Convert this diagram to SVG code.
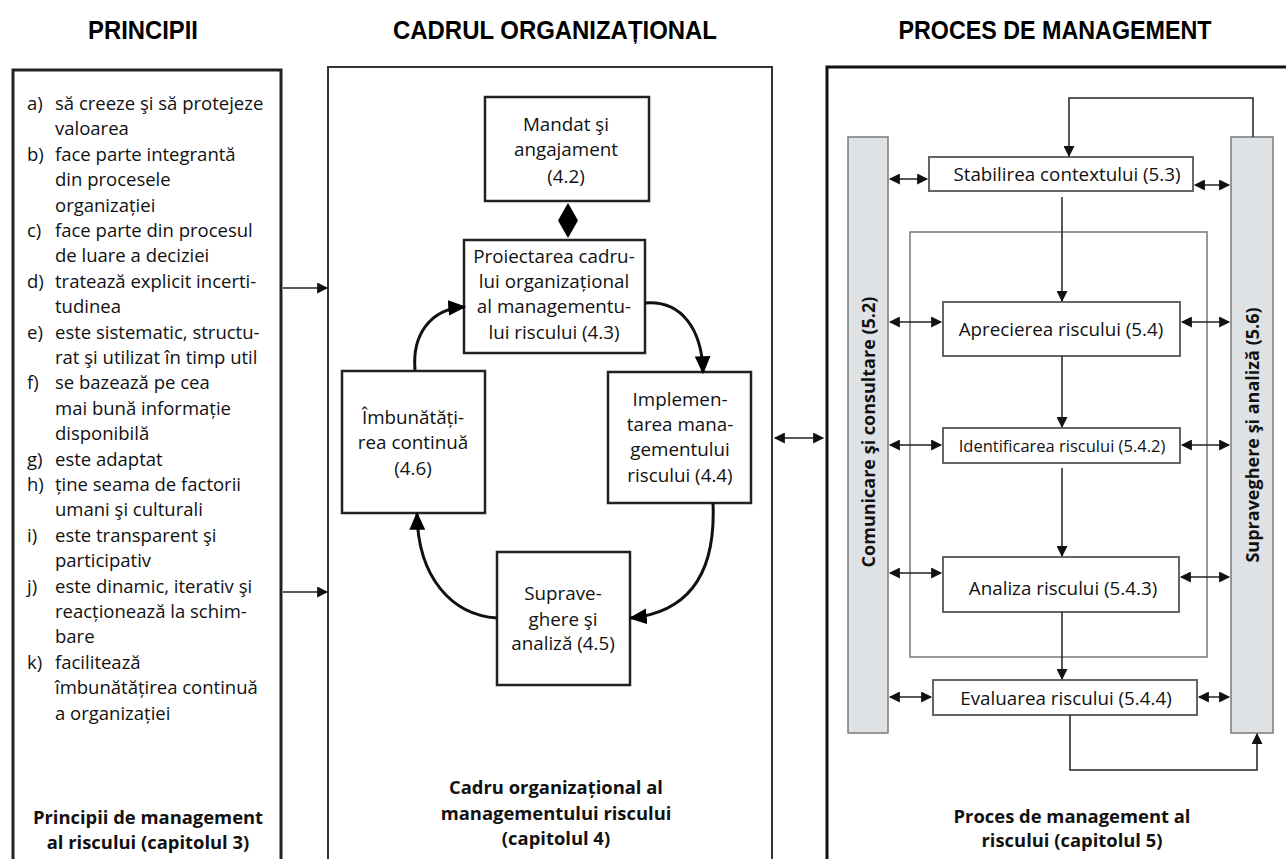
<svg xmlns="http://www.w3.org/2000/svg" width="1286" height="859" viewBox="0 0 1286 859">
  <defs>
    <style>
      .hdr { font-family: "Liberation Sans", Arial, sans-serif; font-weight: bold; font-size: 26px; fill: #000; text-anchor: middle; }
      .txt { font-family: "Open Sans", "Noto Sans", sans-serif; font-size: 18.5px; fill: #111; }
      .mid { font-family: "Open Sans", "Noto Sans", sans-serif; font-size: 18.8px; fill: #111; text-anchor: middle; }
      .rt { font-family: "Open Sans", "Noto Sans", sans-serif; font-size: 18.8px; fill: #111; text-anchor: middle; }
      .cap { font-family: "Open Sans", "Noto Sans", sans-serif; font-weight: bold; font-size: 18.4px; fill: #111; text-anchor: middle; }
      .bar-t { font-family: "Open Sans", "Noto Sans", sans-serif; font-weight: bold; font-size: 18px; fill: #111; text-anchor: middle; }
      .panel { fill: none; }
      .node { fill: #fff; stroke: #222; stroke-width: 2.5; }
      .rbox { fill: #fff; stroke: #666; stroke-width: 2; }
      .bar { fill: #dfe2e5; stroke: #7a7a7a; stroke-width: 1.5; }
      .ln { fill: none; stroke: #222; stroke-width: 1.5; }
      .curve { fill: none; stroke: #111; stroke-width: 3; }
    </style>
    <marker id="ah" viewBox="0 0 10 10" refX="9" refY="5" markerWidth="12" markerHeight="11" markerUnits="userSpaceOnUse" orient="auto-start-reverse">
      <path d="M0,0 L10,5 L0,10 z" fill="#111"/>
    </marker>
    <marker id="ahBig" viewBox="0 0 16 14" refX="14" refY="7" markerWidth="18" markerHeight="16" markerUnits="userSpaceOnUse" orient="auto">
      <path d="M0,0 L16,7 L0,14 z" fill="#000"/>
    </marker>
  </defs>

  <rect width="1286" height="859" fill="#fff"/>

  <!-- column headings -->
  <text class="hdr" x="143" y="39" textLength="110" lengthAdjust="spacingAndGlyphs">PRINCIPII</text>
  <text class="hdr" x="555" y="39" textLength="324" lengthAdjust="spacingAndGlyphs">CADRUL ORGANIZAȚIONAL</text>
  <text class="hdr" x="1055" y="39" textLength="313" lengthAdjust="spacingAndGlyphs">PROCES DE MANAGEMENT</text>

  <!-- principles panel -->
  <g id="principii">
    <rect class="panel" x="13" y="70" width="268" height="900" stroke="#222" stroke-width="3"/>
    <g class="txt">
      <text x="27" y="110">a)</text><text x="55" y="110">să creeze şi să protejeze</text>
      <text x="55" y="135.4">valoarea</text>
      <text x="27" y="160.8">b)</text><text x="55" y="160.8">face parte integrantă</text>
      <text x="55" y="186.2">din procesele</text>
      <text x="55" y="211.6">organizației</text>
      <text x="27" y="237">c)</text><text x="55" y="237">face parte din procesul</text>
      <text x="55" y="262.4">de luare a deciziei</text>
      <text x="27" y="287.8">d)</text><text x="55" y="287.8">tratează explicit incerti-</text>
      <text x="55" y="313.2">tudinea</text>
      <text x="27" y="338.6">e)</text><text x="55" y="338.6">este sistematic, structu-</text>
      <text x="55" y="364">rat şi utilizat în timp util</text>
      <text x="27" y="389.4">f)</text><text x="55" y="389.4">se bazează pe cea</text>
      <text x="55" y="414.8">mai bună informație</text>
      <text x="55" y="440.2">disponibilă</text>
      <text x="27" y="465.6">g)</text><text x="55" y="465.6">este adaptat</text>
      <text x="27" y="491">h)</text><text x="55" y="491">ține seama de factorii</text>
      <text x="55" y="516.4">umani şi culturali</text>
      <text x="27" y="541.8">i)</text><text x="55" y="541.8">este transparent şi</text>
      <text x="55" y="567.2">participativ</text>
      <text x="27" y="592.6">j)</text><text x="55" y="592.6">este dinamic, iterativ şi</text>
      <text x="55" y="618">reacționează la schim-</text>
      <text x="55" y="643.4">bare</text>
      <text x="27" y="668.8">k)</text><text x="55" y="668.8">facilitează</text>
      <text x="55" y="694.2">îmbunătățirea continuă</text>
      <text x="55" y="719.6">a organizației</text>
    </g>
    <text class="cap" x="148" y="824">Principii de management</text>
    <text class="cap" x="148" y="849">al riscului (capitolul 3)</text>
  </g>

  <!-- framework panel -->
  <g id="cadru">
    <rect class="panel" x="328" y="67" width="444" height="900" stroke="#333" stroke-width="2"/>
    <text class="cap" x="556" y="794">Cadru organizațional al</text>
    <text class="cap" x="556" y="820">managementului riscului</text>
    <text class="cap" x="556" y="845">(capitolul 4)</text>
  </g>

  <g id="mandat">
    <rect class="node" x="485" y="97" width="164" height="104"/>
    <text class="mid" x="566" y="131">Mandat şi</text>
    <text class="mid" x="566" y="156">angajament</text>
    <text class="mid" x="566" y="183">(4.2)</text>
  </g>

  <g id="proiectare">
    <rect class="node" x="464" y="240" width="181" height="113"/>
    <text class="mid" x="554" y="263">Proiectarea cadru-</text>
    <text class="mid" x="554" y="288">lui organizațional</text>
    <text class="mid" x="554" y="313">al managementu-</text>
    <text class="mid" x="554" y="339">lui riscului (4.3)</text>
  </g>

  <g id="imbunatatire">
    <rect class="node" x="342" y="371" width="143" height="142"/>
    <text class="mid" x="413" y="424">Îmbunătăți-</text>
    <text class="mid" x="413" y="449">rea continuă</text>
    <text class="mid" x="413" y="475">(4.6)</text>
  </g>

  <g id="implementare">
    <rect class="node" x="608" y="372" width="143" height="131"/>
    <text class="mid" x="680" y="406">Implemen-</text>
    <text class="mid" x="680" y="431">tarea mana-</text>
    <text class="mid" x="680" y="456">gementului</text>
    <text class="mid" x="680" y="482">riscului (4.4)</text>
  </g>

  <g id="supraveghere">
    <rect class="node" x="497" y="552" width="133" height="133"/>
    <text class="mid" x="563" y="600">Suprave-</text>
    <text class="mid" x="563" y="626">ghere şi</text>
    <text class="mid" x="563" y="650">analiză (4.5)</text>
  </g>

  <!-- process panel -->
  <g id="proces">
    <rect class="panel" x="827" y="67" width="500" height="900" stroke="#111" stroke-width="3"/>
    <rect x="910" y="232" width="297" height="425" fill="none" stroke="#777" stroke-width="1.5"/>
    <text class="cap" x="1072" y="823">Proces de management al</text>
    <text class="cap" x="1072" y="847">riscului (capitolul 5)</text>
  </g>

  <g id="comunicare">
    <rect class="bar" x="848" y="137" width="40" height="596"/>
    <text class="bar-t" transform="translate(875,432) rotate(-90)">Comunicare şi consultare (5.2)</text>
  </g>

  <g id="monitorizare">
    <rect class="bar" x="1231" y="137" width="42" height="596"/>
    <text class="bar-t" transform="translate(1259,435) rotate(-90)">Supraveghere şi analiză (5.6)</text>
  </g>

  <g id="context">
    <rect class="rbox" x="929" y="157" width="264" height="34"/>
    <text class="rt" x="1067" y="181">Stabilirea contextului (5.3)</text>
  </g>

  <g id="apreciere">
    <rect class="rbox" x="943" y="302" width="237" height="54"/>
    <text class="rt" x="1061" y="336">Aprecierea riscului (5.4)</text>
  </g>

  <g id="identificare">
    <rect class="rbox" x="943" y="428" width="237" height="35"/>
    <text class="rt" x="1062" y="452" style="font-size:16.5px">Identificarea riscului (5.4.2)</text>
  </g>

  <g id="analiza">
    <rect class="rbox" x="943" y="557" width="236" height="55"/>
    <text class="rt" x="1063" y="595">Analiza riscului (5.4.3)</text>
  </g>

  <g id="evaluare">
    <rect class="rbox" x="933" y="680" width="264" height="35"/>
    <text class="rt" x="1066" y="705">Evaluarea riscului (5.4.4)</text>
  </g>

  <!-- connectors -->
  <g id="connectors">
    <!-- principles feed the framework -->
    <line class="ln" x1="283" y1="288" x2="327" y2="288" marker-end="url(#ah)"/>
    <line class="ln" x1="283" y1="592" x2="327" y2="592" marker-end="url(#ah)"/>
    <!-- framework and process exchange -->
    <line class="ln" x1="775" y1="438" x2="823" y2="438" marker-start="url(#ah)" marker-end="url(#ah)"/>

    <!-- mandate joined to design -->
    <path d="M568,203 L578,220.5 L568,238 L558,220.5 z" fill="#000"/>

    <!-- improvement cycle -->
    <path class="curve" d="M415,370 C412,335 430,309 464,307" marker-end="url(#ahBig)"/>
    <path class="curve" d="M645,303 C682,300 702,330 703,372" marker-end="url(#ahBig)"/>
    <path class="curve" d="M713,503 C716,572 690,612 631,618" marker-end="url(#ahBig)"/>
    <path class="curve" d="M497,618 C452,615 418,578 417,514" marker-end="url(#ahBig)"/>

    <!-- process flow -->
    <polyline class="ln" points="1253,137 1253,98 1069,98 1069,156" marker-end="url(#ah)"/>
    <line class="ln" x1="1062" y1="197" x2="1062" y2="301" marker-end="url(#ah)"/>
    <line class="ln" x1="1062" y1="356" x2="1062" y2="427" marker-end="url(#ah)"/>
    <line class="ln" x1="1062" y1="468" x2="1062" y2="556" marker-end="url(#ah)"/>
    <line class="ln" x1="1062" y1="612" x2="1062" y2="679" marker-end="url(#ah)"/>
    <polyline class="ln" points="1070,715 1070,770 1257,770 1257,734" marker-end="url(#ah)"/>

    <!-- links to communication bar -->
    <line class="ln" x1="890" y1="179" x2="927" y2="179" marker-start="url(#ah)" marker-end="url(#ah)"/>
    <line class="ln" x1="890" y1="322" x2="941" y2="322" marker-start="url(#ah)" marker-end="url(#ah)"/>
    <line class="ln" x1="890" y1="445" x2="941" y2="445" marker-start="url(#ah)" marker-end="url(#ah)"/>
    <line class="ln" x1="890" y1="573" x2="941" y2="573" marker-start="url(#ah)" marker-end="url(#ah)"/>
    <line class="ln" x1="890" y1="697" x2="931" y2="697" marker-start="url(#ah)" marker-end="url(#ah)"/>

    <!-- links to monitoring bar -->
    <line class="ln" x1="1195" y1="185" x2="1229" y2="185" marker-start="url(#ah)" marker-end="url(#ah)"/>
    <line class="ln" x1="1182" y1="322" x2="1229" y2="322" marker-start="url(#ah)" marker-end="url(#ah)"/>
    <line class="ln" x1="1182" y1="445" x2="1229" y2="445" marker-start="url(#ah)" marker-end="url(#ah)"/>
    <line class="ln" x1="1181" y1="577" x2="1229" y2="577" marker-start="url(#ah)" marker-end="url(#ah)"/>
    <line class="ln" x1="1199" y1="697" x2="1229" y2="697" marker-start="url(#ah)" marker-end="url(#ah)"/>
  </g>
</svg>
